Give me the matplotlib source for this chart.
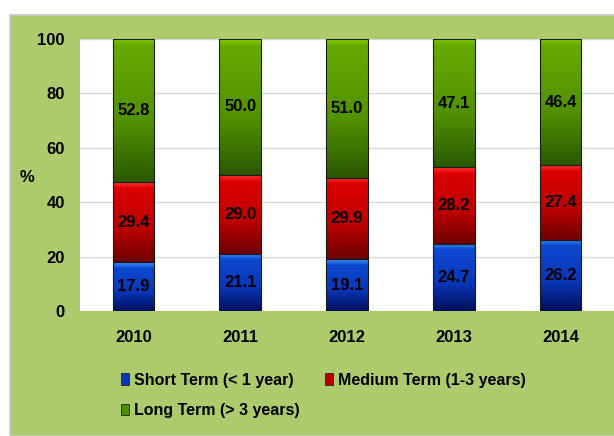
import matplotlib.pyplot as plt
import numpy as np
from matplotlib.patches import Rectangle, Patch
from matplotlib.colors import LinearSegmentedColormap

years = ["2010", "2011", "2012", "2013", "2014"]
short_term = [17.9, 21.1, 19.1, 24.7, 26.2]
medium_term = [29.4, 29.0, 29.9, 28.2, 27.4]
long_term = [52.8, 50.0, 51.0, 47.1, 46.4]
series_names = ["Short Term (< 1 year)", "Medium Term (1-3 years)", "Long Term (> 3 years)"]

plt.rcParams["font.family"] = ["Liberation Sans", "DejaVu Sans"]

# bottom -> top colour stops for each series (soft bevel at the top)
grads = [
    ["#000f5c", "#0a36b8", "#0d48d0", "#3a96ff"],
    ["#6e0000", "#bc0000", "#dc0000", "#ff3535"],
    ["#2c5800", "#529200", "#66aa00", "#8ad000"],
]
mids = ["#0a36b8", "#b80000", "#4f8e00"]
bevel_px = 6

bg = "#adcb6c"
fig = plt.figure(figsize=(6.14, 4.36), dpi=100)
fig.patch.set_facecolor("white")
fig.patches.append(Rectangle((10 / 614, 0), 1, 1 - 15 / 436, transform=fig.transFigure,
                             facecolor=bg, edgecolor="#c8c8c8", lw=1.2, zorder=-5))

ax = fig.add_axes([80 / 614, 1 - 311 / 436, 1 - 80 / 614, (311 - 39) / 436])
ax.set_facecolor("white")
x = np.arange(len(years))
w = 0.39
px_per_unit = (311 - 39) / 100
bottoms = np.zeros(len(years))
grad = np.linspace(0, 1, 300).reshape(-1, 1)
for vals, g in zip([short_term, medium_term, long_term], grads):
    bars = ax.bar(x, vals, w, bottom=bottoms, color="none", edgecolor="#1a1a1a", lw=0.8, zorder=3)
    for b, v, bt in zip(bars, vals, bottoms):
        f = 1 - bevel_px / (v * px_per_unit)
        cmap = LinearSegmentedColormap.from_list(
            "g", [(0, g[0]), (0.45 * f, g[1]), (f, g[2]), (1, g[3])])
        im = ax.imshow(grad, cmap=cmap, origin="lower", aspect="auto", zorder=2,
                       extent=[b.get_x(), b.get_x() + b.get_width(), bt, bt + v])
        im.set_clip_path(b)
        ax.text(b.get_x() + b.get_width() / 2, bt + v / 2, f"{v:.1f}", ha="center", va="center",
                fontsize=12, fontweight="bold", color="black", zorder=4)
    bottoms = bottoms + np.array(vals)

ax.set_xlim(-0.5, len(years) - 0.5)
ax.set_ylim(0, 100)
ax.set_yticks(range(0, 101, 20))
ax.set_xticks(x)
ax.set_xticklabels(years)
ax.tick_params(length=0, labelsize=12)
for lab in ax.get_xticklabels() + ax.get_yticklabels():
    lab.set_fontweight("bold")
ax.tick_params(axis="x", pad=14)
ax.tick_params(axis="y", pad=11)
ax.grid(axis="y", color="#d9d9d9", lw=1, zorder=0)
for s in ax.spines.values():
    s.set_visible(False)
ax.set_axisbelow(True)

fig.text(27 / 614, 1 - 178 / 436, "%", fontsize=12, fontweight="bold", ha="center", va="center")

handles = [Patch(facecolor=c, edgecolor="#222222", lw=0.6) for c in mids]
order = [0, 2, 1]
fig.legend([handles[i] for i in order], [series_names[i] for i in order],
           loc="upper left", bbox_to_anchor=(108 / 614, 1 - 360 / 436),
           ncol=2, frameon=False, handlelength=0.5, handleheight=0.75, handletextpad=0.3,
           columnspacing=1.6, labelspacing=0.95, borderpad=0.3,
           prop={"size": 11.5, "weight": "bold"})

fig.savefig("out.png", dpi=100, facecolor=fig.get_facecolor())
